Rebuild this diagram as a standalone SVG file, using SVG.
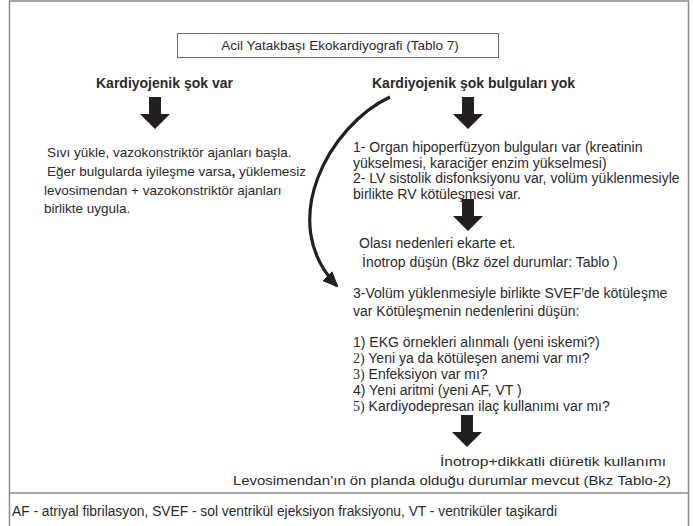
<svg xmlns="http://www.w3.org/2000/svg" width="693" height="526" viewBox="0 0 693 526">
<style>
.t{font-family:"Liberation Sans",Arial,sans-serif;font-size:13.5px;fill:#2a2a2a}
.r{font-size:14px}
.b{font-weight:bold;font-size:14px}
.s{font-family:"Liberation Serif","Times New Roman",serif}
.frame{fill:none;stroke:#8a8a8a;stroke-width:1.5}
.box{fill:#fff;stroke:#6d6d6d;stroke-width:1}
.blk{fill:#231f20}
.curve{fill:none;stroke:#231f20;stroke-width:3.2}
</style>
<defs>
<path id="blkArrow" d="M-6,0 H6 V17 H15 L0,32 L-15,17 H-6 Z"/>
<marker id="head" viewBox="0 0 16 14" refX="14" refY="7" markerWidth="16" markerHeight="14" orient="auto" markerUnits="userSpaceOnUse">
<path d="M0,0 L16,7 L0,14 Z" fill="#231f20"/>
</marker>
</defs>
<rect width="693" height="526" fill="#fff"/>
<g id="frame">
<rect class="frame" x="9.5" y="1" width="679" height="540"/>
<line class="frame" x1="9.5" y1="493" x2="688.5" y2="493"/>
</g>
<g id="title">
<rect class="box" x="177.5" y="33.5" width="321" height="24"/>
<text class="t" x="340" y="50" text-anchor="middle">Acil Yatakbaşı Ekokardiyografi (Tablo 7)</text>
</g>
<g id="left-head">
<text class="t b" x="96" y="88">Kardiyojenik şok var</text>
</g>
<g id="left-body">
<text class="t" x="47" y="157">Sıvı yükle, vazokonstriktör ajanları başla.</text>
<text class="t" x="47" y="176">Eğer bulgularda iyileşme varsa<tspan font-weight="bold">,</tspan>  yüklemesiz</text>
<text class="t" x="44" y="195">levosimendan + vazokonstriktör ajanları</text>
<text class="t" x="44" y="213">birlikte uygula.</text>
</g>
<g id="right-head">
<text class="t b" x="372" y="88">Kardiyojenik şok bulguları yok</text>
</g>
<g id="findings">
<text class="t r" x="353" y="152">1- Organ hipoperfüzyon bulguları var (kreatinin</text>
<text class="t r" x="353" y="168">yükselmesi, karaciğer enzim yükselmesi)</text>
<text class="t r" x="353" y="183">2- LV sistolik disfonksiyonu var, volüm yüklenmesiyle</text>
<text class="t r" x="353" y="199">birlikte RV kötüleşmesi var.</text>
</g>
<g id="exclude">
<text class="t r" x="359" y="248">Olası nedenleri ekarte et.</text>
<text class="t r" x="362" y="267">İnotrop düşün (Bkz özel durumlar: Tablo )</text>
</g>
<g id="svef">
<text class="t r" x="353" y="298">3-Volüm yüklenmesiyle birlikte SVEF’de kötüleşme</text>
<text class="t r" x="353" y="316">var Kötüleşmenin nedenlerini düşün:</text>
</g>
<g id="causes">
<text class="t r" x="353" y="347">1) EKG örnekleri alınmalı (yeni iskemi?)</text>
<text class="t r" x="353" y="363"><tspan class="s">2)</tspan> Yeni ya da kötüleşen anemi var mı?</text>
<text class="t r" x="353" y="379"><tspan class="s">3)</tspan> Enfeksiyon var mı?</text>
<text class="t r" x="353" y="395">4) Yeni aritmi (yeni AF, VT )</text>
<text class="t r" x="353" y="411"><tspan class="s">5)</tspan> Kardiyodepresan ilaç kullanımı var mı?</text>
</g>
<g id="therapy">
<text class="t" x="666" y="466" text-anchor="end" textLength="226" lengthAdjust="spacingAndGlyphs">İnotrop+dikkatli diüretik kullanımı</text>
<text class="t" x="671" y="485" text-anchor="end" textLength="438" lengthAdjust="spacingAndGlyphs">Levosimendan’ın ön planda olduğu durumlar mevcut (Bkz Tablo-2)</text>
</g>
<g id="footer">
<text class="t r" x="12" y="516" textLength="545" lengthAdjust="spacingAndGlyphs">AF - atriyal fibrilasyon, SVEF - sol ventrikül ejeksiyon fraksiyonu, VT - ventriküler taşikardi</text>
</g>
<g id="connectors">
<use class="blk" href="#blkArrow" x="155" y="97"/>
<use class="blk" href="#blkArrow" x="468" y="97"/>
<use class="blk" href="#blkArrow" x="468" y="199"/>
<use class="blk" href="#blkArrow" x="467" y="415"/>
<path class="curve" d="M390,97 C330,125 275,222 337,286" marker-end="url(#head)"/>
</g>
</svg>
